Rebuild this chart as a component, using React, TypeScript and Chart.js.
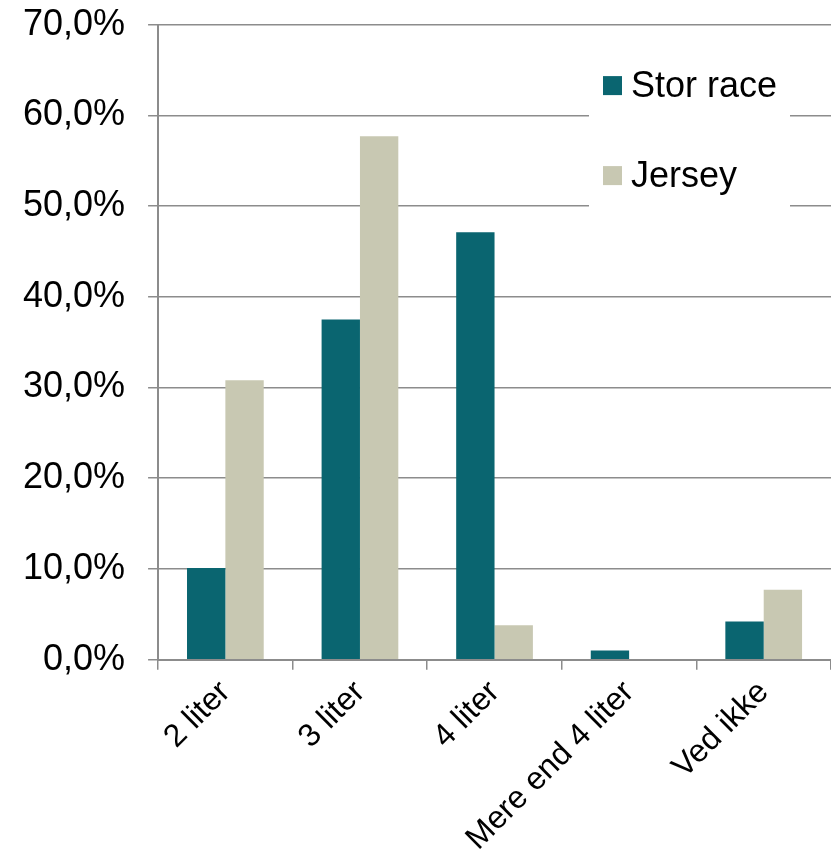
import React, { useEffect, useRef } from "react";
import { Chart, registerables } from "chart.js";

Chart.register(...registerables);

const categories = ["2 liter", "3 liter", "4 liter", "Mere end 4 liter", "Ved ikke"];
const storRace = [10.1, 37.5, 47.1, 1.0, 4.2];
const jersey = [30.8, 57.7, 3.8, 0, 7.7];
const seriesNames = ["Stor race", "Jersey"];
const seriesColors = ["#0A6570", "#C8C8B2"];

const FONT = "'Liberation Sans', Arial, sans-serif";

const legendPlugin = {
  id: "insideLegend",
  afterDraw(chart: any) {
    const { ctx, chartArea } = chart;
    const x0 = chartArea.right - 242;
    const y0 = chartArea.top + 36;
    ctx.save();
    ctx.fillStyle = "#ffffff";
    ctx.fillRect(x0, y0, 201, 150);
    ctx.font = `36px ${FONT}`;
    ctx.textBaseline = "middle";
    ctx.textAlign = "left";
    chart.data.datasets.forEach((ds: any, i: number) => {
      const cy = y0 + 25 + i * 90;
      ctx.fillStyle = ds.backgroundColor;
      ctx.fillRect(x0 + 14, cy - 9.5, 19, 19);
      ctx.fillStyle = "#000000";
      ctx.fillText(ds.label, x0 + 42, cy + 1);
    });
    ctx.restore();
  },
};

export default function App() {
  const ref = useRef<HTMLCanvasElement>(null);
  useEffect(() => {
    document.body.style.margin = "0";
    const chart = new Chart(ref.current!, {
      type: "bar",
      data: {
        labels: categories,
        datasets: [
          { label: seriesNames[0], data: storRace, backgroundColor: seriesColors[0] },
          { label: seriesNames[1], data: jersey, backgroundColor: seriesColors[1] },
        ],
      },
      options: {
        animation: false,
        responsive: false,
        maintainAspectRatio: false,
        layout: { padding: { left: 0, top: 0, right: 0, bottom: 0 } },
        plugins: { legend: { display: false }, tooltip: { enabled: false } },
        datasets: { bar: { categoryPercentage: 0.57, barPercentage: 1.0 } },
        scales: {
          x: {
            offset: true,
            grid: {
              offset: true,
              drawOnChartArea: false,
              color: "#8C8C8C",
              lineWidth: 1.5,
              tickLength: 10,
            },
            border: { color: "#8C8C8C", width: 2 },
            ticks: {
              color: "#000",
              font: { family: FONT, size: 32 },
              maxRotation: 45,
              minRotation: 45,
              padding: 4,
            },
          },
          y: {
            min: 0,
            max: 70,
            grid: { color: "#8C8C8C", lineWidth: 1.5, tickLength: 10 },
            border: { color: "#8C8C8C", width: 2 },
            ticks: {
              stepSize: 10,
              color: "#000",
              font: { family: FONT, size: 36 },
              padding: 23,
              callback: (v: any) => `${Number(v).toFixed(1).replace(".", ",")}%`,
            },
          },
        },
      },
      plugins: [legendPlugin],
    });
    return () => chart.destroy();
  }, []);
  return (
    <div style={{ width: 831, height: 856, overflow: "hidden" }}>
      <canvas ref={ref} width={831} height={882} style={{ display: "block", marginTop: -20 }} />
    </div>
  );
}
